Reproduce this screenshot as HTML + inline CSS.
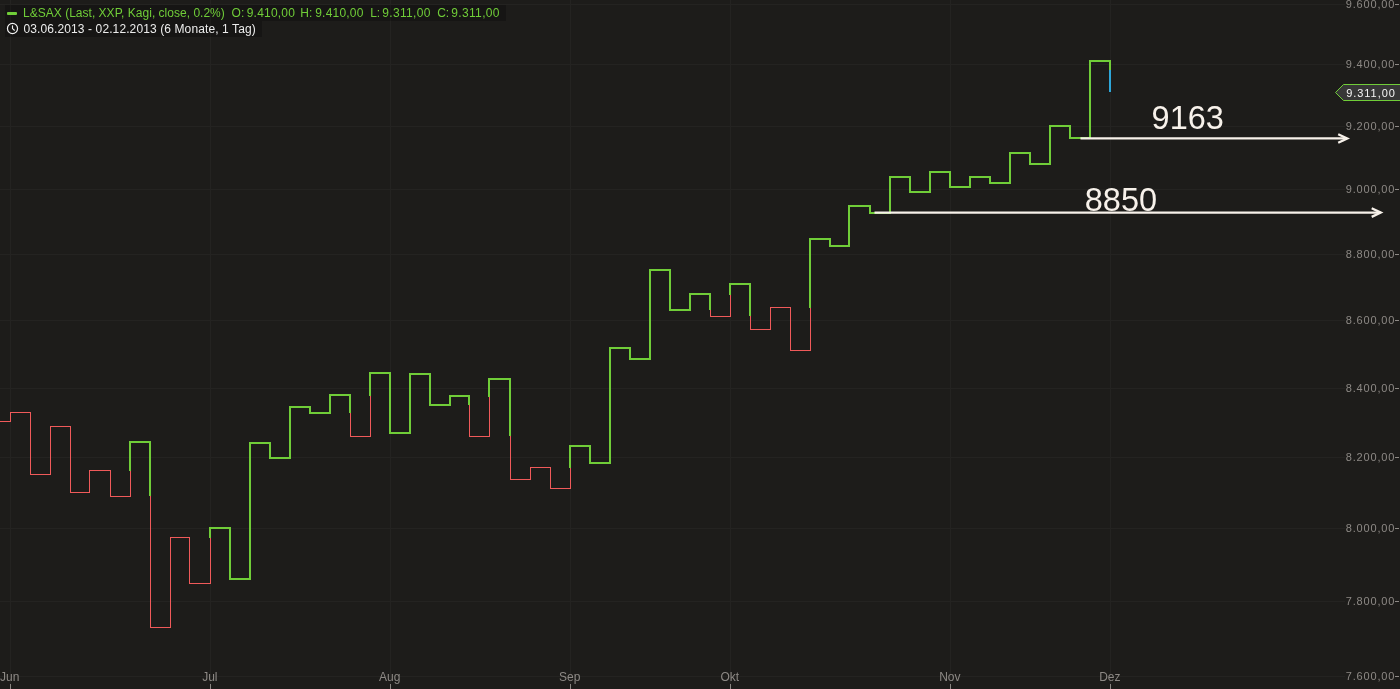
<!DOCTYPE html>
<html lang="de"><head><meta charset="utf-8"><title>L&amp;SAX Kagi</title>
<style>
html,body{margin:0;padding:0;background:#1d1c1a;overflow:hidden}
svg{display:block;will-change:transform;transform:translateZ(0)}
text{font-family:"Liberation Sans",Arial,sans-serif;font-size:12px}
.ax{fill:#8d8985}
.ay{font-size:11px}
.lg{fill:#70cd38}
.lw{fill:#ececec}
.big{font-size:32.5px;fill:#f7f1ea}
</style></head><body>
<svg width="1400" height="689" viewBox="0 0 1400 689">
<rect width="1400" height="689" fill="#1d1c1a"/>
<g shape-rendering="crispEdges">
<rect x="0" y="4" width="1345" height="1" fill="#242321"/>
<rect x="0" y="64" width="1345" height="1" fill="#242321"/>
<rect x="0" y="126" width="1345" height="1" fill="#242321"/>
<rect x="0" y="189" width="1345" height="1" fill="#242321"/>
<rect x="0" y="254" width="1345" height="1" fill="#242321"/>
<rect x="0" y="320" width="1345" height="1" fill="#242321"/>
<rect x="0" y="388" width="1345" height="1" fill="#242321"/>
<rect x="0" y="457" width="1345" height="1" fill="#242321"/>
<rect x="0" y="528" width="1345" height="1" fill="#242321"/>
<rect x="0" y="601" width="1345" height="1" fill="#242321"/>
<rect x="0" y="676" width="1345" height="1" fill="#242321"/>
<rect x="10" y="0" width="1" height="684" fill="#242321"/>
<rect x="210" y="0" width="1" height="684" fill="#242321"/>
<rect x="390" y="0" width="1" height="684" fill="#242321"/>
<rect x="570" y="0" width="1" height="684" fill="#242321"/>
<rect x="730" y="0" width="1" height="684" fill="#242321"/>
<rect x="950" y="0" width="1" height="684" fill="#242321"/>
<rect x="1110" y="0" width="1" height="684" fill="#242321"/>
</g>
<!-- legend background -->
<g shape-rendering="crispEdges">
<rect x="5" y="5" width="501" height="16" fill="#000" fill-opacity="0.22"/>
<rect x="5" y="21" width="257" height="16" fill="#000" fill-opacity="0.22"/>
</g>
<rect x="7" y="12" width="10" height="3" rx="0.9" fill="#70cd38"/>
<text x="23.0" y="17" class="lg" textLength="201.8" lengthAdjust="spacing">L&amp;SAX (Last, XXP, Kagi, close, 0.2%)</text>
<text x="231.6" y="17" class="lg">O:</text>
<text x="246.7" y="17" class="lg" textLength="48.2" lengthAdjust="spacing">9.410,00</text>
<text x="300.3" y="17" class="lg">H:</text>
<text x="315.2" y="17" class="lg" textLength="48.2" lengthAdjust="spacing">9.410,00</text>
<text x="370.2" y="17" class="lg">L:</text>
<text x="382.2" y="17" class="lg" textLength="48.2" lengthAdjust="spacing">9.311,00</text>
<text x="437.2" y="17" class="lg">C:</text>
<text x="451.3" y="17" class="lg" textLength="48.2" lengthAdjust="spacing">9.311,00</text>
<!-- clock icon -->
<g fill="none" stroke="#f0f0f0" stroke-width="1.2" stroke-linecap="round">
<circle cx="12.5" cy="28.5" r="5.05"/>
<path d="M12.5 25.7 V28.6 L14.4 30.2" stroke-width="1.15"/>
</g>
<text x="23.5" y="33" class="lw" textLength="232.2" lengthAdjust="spacing">03.06.2013 - 02.12.2013 (6 Monate, 1 Tag)</text>

<!-- kagi -->
<g shape-rendering="crispEdges">
<rect x="0" y="421" width="11" height="1" fill="#f05a5a"/>
<rect x="10" y="412" width="1" height="10" fill="#f05a5a"/>
<rect x="10" y="412" width="21" height="1" fill="#f05a5a"/>
<rect x="30" y="412" width="1" height="63" fill="#f05a5a"/>
<rect x="30" y="474" width="21" height="1" fill="#f05a5a"/>
<rect x="50" y="426" width="1" height="49" fill="#f05a5a"/>
<rect x="50" y="426" width="21" height="1" fill="#f05a5a"/>
<rect x="70" y="426" width="1" height="67" fill="#f05a5a"/>
<rect x="70" y="492" width="20" height="1" fill="#f05a5a"/>
<rect x="89" y="470" width="1" height="23" fill="#f05a5a"/>
<rect x="89" y="470" width="22" height="1" fill="#f05a5a"/>
<rect x="110" y="470" width="1" height="27" fill="#f05a5a"/>
<rect x="110" y="496" width="21" height="1" fill="#f05a5a"/>
<rect x="130" y="471" width="1" height="26" fill="#f05a5a"/>
<rect x="150" y="496" width="1" height="132" fill="#f05a5a"/>
<rect x="150" y="627" width="21" height="1" fill="#f05a5a"/>
<rect x="170" y="537" width="1" height="91" fill="#f05a5a"/>
<rect x="170" y="537" width="20" height="1" fill="#f05a5a"/>
<rect x="189" y="537" width="1" height="47" fill="#f05a5a"/>
<rect x="189" y="583" width="22" height="1" fill="#f05a5a"/>
<rect x="210" y="538" width="1" height="46" fill="#f05a5a"/>
<rect x="350" y="413" width="1" height="24" fill="#f05a5a"/>
<rect x="350" y="436" width="21" height="1" fill="#f05a5a"/>
<rect x="370" y="396" width="1" height="41" fill="#f05a5a"/>
<rect x="469" y="405" width="1" height="32" fill="#f05a5a"/>
<rect x="469" y="436" width="21" height="1" fill="#f05a5a"/>
<rect x="489" y="397" width="1" height="40" fill="#f05a5a"/>
<rect x="510" y="436" width="1" height="44" fill="#f05a5a"/>
<rect x="510" y="479" width="21" height="1" fill="#f05a5a"/>
<rect x="530" y="467" width="1" height="13" fill="#f05a5a"/>
<rect x="530" y="467" width="21" height="1" fill="#f05a5a"/>
<rect x="550" y="467" width="1" height="22" fill="#f05a5a"/>
<rect x="550" y="488" width="21" height="1" fill="#f05a5a"/>
<rect x="570" y="468" width="1" height="21" fill="#f05a5a"/>
<rect x="710" y="310" width="1" height="7" fill="#f05a5a"/>
<rect x="710" y="316" width="21" height="1" fill="#f05a5a"/>
<rect x="730" y="295" width="1" height="22" fill="#f05a5a"/>
<rect x="750" y="316" width="1" height="14" fill="#f05a5a"/>
<rect x="750" y="329" width="21" height="1" fill="#f05a5a"/>
<rect x="770" y="307" width="1" height="23" fill="#f05a5a"/>
<rect x="770" y="307" width="21" height="1" fill="#f05a5a"/>
<rect x="790" y="307" width="1" height="44" fill="#f05a5a"/>
<rect x="790" y="350" width="21" height="1" fill="#f05a5a"/>
<rect x="810" y="308" width="1" height="43" fill="#f05a5a"/>
<rect x="129" y="441" width="2" height="30" fill="#70cd38"/>
<rect x="129" y="441" width="22" height="2" fill="#70cd38"/>
<rect x="149" y="441" width="2" height="55" fill="#70cd38"/>
<rect x="209" y="527" width="2" height="11" fill="#70cd38"/>
<rect x="209" y="527" width="22" height="2" fill="#70cd38"/>
<rect x="229" y="527" width="2" height="53" fill="#70cd38"/>
<rect x="229" y="578" width="22" height="2" fill="#70cd38"/>
<rect x="249" y="442" width="2" height="138" fill="#70cd38"/>
<rect x="249" y="442" width="22" height="2" fill="#70cd38"/>
<rect x="269" y="442" width="2" height="17" fill="#70cd38"/>
<rect x="269" y="457" width="22" height="2" fill="#70cd38"/>
<rect x="289" y="406" width="2" height="53" fill="#70cd38"/>
<rect x="289" y="406" width="22" height="2" fill="#70cd38"/>
<rect x="309" y="406" width="2" height="8" fill="#70cd38"/>
<rect x="309" y="412" width="22" height="2" fill="#70cd38"/>
<rect x="329" y="394" width="2" height="20" fill="#70cd38"/>
<rect x="329" y="394" width="22" height="2" fill="#70cd38"/>
<rect x="349" y="394" width="2" height="19" fill="#70cd38"/>
<rect x="369" y="372" width="2" height="24" fill="#70cd38"/>
<rect x="369" y="372" width="22" height="2" fill="#70cd38"/>
<rect x="389" y="372" width="2" height="62" fill="#70cd38"/>
<rect x="389" y="432" width="22" height="2" fill="#70cd38"/>
<rect x="409" y="373" width="2" height="61" fill="#70cd38"/>
<rect x="409" y="373" width="22" height="2" fill="#70cd38"/>
<rect x="429" y="373" width="2" height="33" fill="#70cd38"/>
<rect x="429" y="404" width="22" height="2" fill="#70cd38"/>
<rect x="449" y="395" width="2" height="11" fill="#70cd38"/>
<rect x="449" y="395" width="21" height="2" fill="#70cd38"/>
<rect x="468" y="395" width="2" height="10" fill="#70cd38"/>
<rect x="488" y="378" width="2" height="19" fill="#70cd38"/>
<rect x="488" y="378" width="23" height="2" fill="#70cd38"/>
<rect x="509" y="378" width="2" height="58" fill="#70cd38"/>
<rect x="569" y="445" width="2" height="23" fill="#70cd38"/>
<rect x="569" y="445" width="22" height="2" fill="#70cd38"/>
<rect x="589" y="445" width="2" height="19" fill="#70cd38"/>
<rect x="589" y="462" width="22" height="2" fill="#70cd38"/>
<rect x="609" y="347" width="2" height="117" fill="#70cd38"/>
<rect x="609" y="347" width="22" height="2" fill="#70cd38"/>
<rect x="629" y="347" width="2" height="13" fill="#70cd38"/>
<rect x="629" y="358" width="22" height="2" fill="#70cd38"/>
<rect x="649" y="269" width="2" height="91" fill="#70cd38"/>
<rect x="649" y="269" width="22" height="2" fill="#70cd38"/>
<rect x="669" y="269" width="2" height="42" fill="#70cd38"/>
<rect x="669" y="309" width="22" height="2" fill="#70cd38"/>
<rect x="689" y="293" width="2" height="18" fill="#70cd38"/>
<rect x="689" y="293" width="22" height="2" fill="#70cd38"/>
<rect x="709" y="293" width="2" height="17" fill="#70cd38"/>
<rect x="729" y="283" width="2" height="12" fill="#70cd38"/>
<rect x="729" y="283" width="22" height="2" fill="#70cd38"/>
<rect x="749" y="283" width="2" height="33" fill="#70cd38"/>
<rect x="809" y="238" width="2" height="70" fill="#70cd38"/>
<rect x="809" y="238" width="22" height="2" fill="#70cd38"/>
<rect x="829" y="238" width="2" height="9" fill="#70cd38"/>
<rect x="829" y="245" width="21" height="2" fill="#70cd38"/>
<rect x="848" y="205" width="2" height="42" fill="#70cd38"/>
<rect x="848" y="205" width="23" height="2" fill="#70cd38"/>
<rect x="869" y="205" width="2" height="9" fill="#70cd38"/>
<rect x="869" y="212" width="22" height="2" fill="#70cd38"/>
<rect x="889" y="176" width="2" height="38" fill="#70cd38"/>
<rect x="889" y="176" width="22" height="2" fill="#70cd38"/>
<rect x="909" y="176" width="2" height="17" fill="#70cd38"/>
<rect x="909" y="191" width="22" height="2" fill="#70cd38"/>
<rect x="929" y="171" width="2" height="22" fill="#70cd38"/>
<rect x="929" y="171" width="22" height="2" fill="#70cd38"/>
<rect x="949" y="171" width="2" height="17" fill="#70cd38"/>
<rect x="949" y="186" width="22" height="2" fill="#70cd38"/>
<rect x="969" y="176" width="2" height="12" fill="#70cd38"/>
<rect x="969" y="176" width="22" height="2" fill="#70cd38"/>
<rect x="989" y="176" width="2" height="8" fill="#70cd38"/>
<rect x="989" y="182" width="22" height="2" fill="#70cd38"/>
<rect x="1009" y="152" width="2" height="32" fill="#70cd38"/>
<rect x="1009" y="152" width="22" height="2" fill="#70cd38"/>
<rect x="1029" y="152" width="2" height="13" fill="#70cd38"/>
<rect x="1029" y="163" width="22" height="2" fill="#70cd38"/>
<rect x="1049" y="125" width="2" height="40" fill="#70cd38"/>
<rect x="1049" y="125" width="22" height="2" fill="#70cd38"/>
<rect x="1069" y="125" width="2" height="14" fill="#70cd38"/>
<rect x="1069" y="137" width="22" height="2" fill="#70cd38"/>
<rect x="1089" y="60" width="2" height="79" fill="#70cd38"/>
<rect x="1089" y="60" width="22" height="2" fill="#70cd38"/>
<rect x="1109" y="60" width="2" height="10" fill="#70cd38"/>
<rect x="1109" y="70" width="2" height="22" fill="#2ea6d8"/>
</g>

<!-- annotations -->
<g stroke="#f7f1ea" stroke-width="2.3" fill="none">
<path d="M1080.5 138.4 H1347"/>
<path d="M1338.2 134.3 L1347.3 138.5 L1338.2 142.8" stroke-linejoin="miter"/>
<path d="M874.5 212.6 H1380.5"/>
<path d="M1371.7 208.3 L1380.8 212.6 L1371.7 216.9" stroke-linejoin="miter"/>
</g>
<text x="1151.6" y="129" class="big">9163</text>
<text x="1084.8" y="210.7" class="big">8850</text>

<!-- axes -->
<text x="1345.8" y="8.1" textLength="48.5" lengthAdjust="spacing" class="ax ay">9.600,00</text><rect x="1395" y="4" width="4" height="1" fill="#8d8985"/>
<text x="1345.8" y="68.1" textLength="48.5" lengthAdjust="spacing" class="ax ay">9.400,00</text><rect x="1395" y="64" width="4" height="1" fill="#8d8985"/>
<text x="1345.8" y="130.1" textLength="48.5" lengthAdjust="spacing" class="ax ay">9.200,00</text><rect x="1395" y="126" width="4" height="1" fill="#8d8985"/>
<text x="1345.8" y="193.1" textLength="48.5" lengthAdjust="spacing" class="ax ay">9.000,00</text><rect x="1395" y="189" width="4" height="1" fill="#8d8985"/>
<text x="1345.8" y="258.1" textLength="48.5" lengthAdjust="spacing" class="ax ay">8.800,00</text><rect x="1395" y="254" width="4" height="1" fill="#8d8985"/>
<text x="1345.8" y="324.1" textLength="48.5" lengthAdjust="spacing" class="ax ay">8.600,00</text><rect x="1395" y="320" width="4" height="1" fill="#8d8985"/>
<text x="1345.8" y="392.1" textLength="48.5" lengthAdjust="spacing" class="ax ay">8.400,00</text><rect x="1395" y="388" width="4" height="1" fill="#8d8985"/>
<text x="1345.8" y="461.1" textLength="48.5" lengthAdjust="spacing" class="ax ay">8.200,00</text><rect x="1395" y="457" width="4" height="1" fill="#8d8985"/>
<text x="1345.8" y="532.1" textLength="48.5" lengthAdjust="spacing" class="ax ay">8.000,00</text><rect x="1395" y="528" width="4" height="1" fill="#8d8985"/>
<text x="1345.8" y="605.1" textLength="48.5" lengthAdjust="spacing" class="ax ay">7.800,00</text><rect x="1395" y="601" width="4" height="1" fill="#8d8985"/>
<text x="1345.8" y="680.1" textLength="48.5" lengthAdjust="spacing" class="ax ay">7.600,00</text><rect x="1395" y="676" width="4" height="1" fill="#8d8985"/>
<text x="9.8" y="681" text-anchor="middle" class="ax">Jun</text><rect x="10" y="684" width="1" height="5" fill="#8a8682"/>
<text x="209.8" y="681" text-anchor="middle" class="ax">Jul</text><rect x="210" y="684" width="1" height="5" fill="#8a8682"/>
<text x="389.8" y="681" text-anchor="middle" class="ax">Aug</text><rect x="390" y="684" width="1" height="5" fill="#8a8682"/>
<text x="569.8" y="681" text-anchor="middle" class="ax">Sep</text><rect x="570" y="684" width="1" height="5" fill="#8a8682"/>
<text x="729.8" y="681" text-anchor="middle" class="ax">Okt</text><rect x="730" y="684" width="1" height="5" fill="#8a8682"/>
<text x="949.8" y="681" text-anchor="middle" class="ax">Nov</text><rect x="950" y="684" width="1" height="5" fill="#8a8682"/>
<text x="1109.8" y="681" text-anchor="middle" class="ax">Dez</text><rect x="1110" y="684" width="1" height="5" fill="#8a8682"/>

<!-- price marker -->
<path d="M1335.5 92.5 L1343.5 84.5 H1400.5 V100.5 H1343.5 Z" fill="#373737" stroke="#70cd38" stroke-width="1"/>
<text x="1346.3" y="97" fill="#f6f6f6" style="font-size:11px" textLength="48.5" lengthAdjust="spacing">9.311,00</text>
</svg>
</body></html>
